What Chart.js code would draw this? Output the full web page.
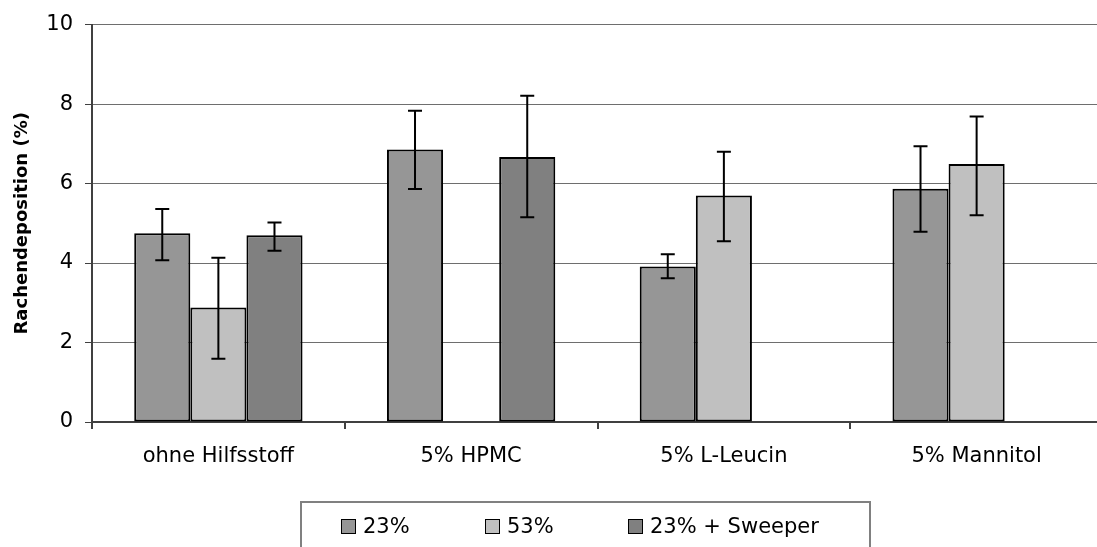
<!DOCTYPE html>
<html>
<head>
<meta charset="utf-8">
<script src="https://cdn.jsdelivr.net/npm/chart.js@4/dist/chart.umd.min.js"></script>
<style>
  html, body { margin: 0; padding: 0; background: #fff; overflow: hidden; }
  #wrap { position: relative; width: 1110px; height: 547px; }
  #legendBox {
    position: absolute; left: 300px; top: 501px; width: 571px; height: 70px;
    border: 2px solid #808080; box-sizing: border-box;
    font-family: "DejaVu Sans", sans-serif; font-size: 21px; color: #000;
  }
  .lg-item { position: absolute; top: 11px; display: flex; align-items: center; white-space: nowrap; }
  .lg-box { width: 13px; height: 13px; border: 1px solid #000; margin-right: 7px; }
</style>
</head>
<body>
<div id="wrap">
  <canvas id="chart" width="1110" height="547"></canvas>
  <div id="legendBox"></div>
</div>
<script>
// --- Daten ---
const categories = ["ohne Hilfsstoff", "5% HPMC", "5% L-Leucin", "5% Mannitol"];
const seriesNames = ["23%", "53%", "23% + Sweeper"];
const seriesColors = ["#969696", "#c0c0c0", "#808080"];

const values23 = [4.75, 6.86, 3.91, 5.87];
const values53 = [2.88, null, 5.70, 6.49];
const valuesSweeper = [4.70, 6.67, null, null];

// Fehlerbalken (untere / obere Grenze)
const low23 = [4.07, 5.86, 3.62, 4.79];
const high23 = [5.36, 7.83, 4.22, 6.94];
const low53 = [1.59, null, 4.55, 5.20];
const high53 = [4.13, null, 6.80, 7.69];
const lowSweeper = [4.31, 5.15, null, null];
const highSweeper = [5.02, 8.21, null, null];

const yTicks = [0, 2, 4, 6, 8, 10];

const allValues = [values23, values53, valuesSweeper];
const allLow = [low23, low53, lowSweeper];
const allHigh = [high23, high53, highSweeper];

const FONT = "'DejaVu Sans', sans-serif";

// --- Fehlerbalken-Plugin ---
const errorBars = {
  id: "errorBars",
  afterDatasetsDraw(chart) {
    const ctx = chart.ctx;
    const y = chart.scales.y;
    ctx.save();
    ctx.strokeStyle = "#000";
    ctx.lineWidth = 2;
    chart.data.datasets.forEach((ds, i) => {
      const meta = chart.getDatasetMeta(i);
      meta.data.forEach((bar, j) => {
        const lo = allLow[i][j], hi = allHigh[i][j];
        if (lo == null || hi == null) return;
        const x = bar.x;
        const yl = y.getPixelForValue(lo), yh = y.getPixelForValue(hi);
        ctx.beginPath();
        ctx.moveTo(x, yl); ctx.lineTo(x, yh);
        ctx.moveTo(x - 7, yl); ctx.lineTo(x + 7, yl);
        ctx.moveTo(x - 7, yh); ctx.lineTo(x + 7, yh);
        ctx.stroke();
      });
    });
    ctx.restore();
  }
};

const chart = new Chart(document.getElementById("chart"), {
  type: "bar",
  data: {
    labels: categories,
    datasets: seriesNames.map((name, i) => ({
      label: name,
      data: allValues[i],
      backgroundColor: seriesColors[i],
      borderColor: "#000",
      borderWidth: 2,
      borderSkipped: false,
      barPercentage: 1,
      categoryPercentage: 0.666
    }))
  },
  options: {
    responsive: false,
    animation: false,
    layout: { padding: { top: 21, right: 7, left: 0, bottom: 0 } },
    plugins: { legend: { display: false }, tooltip: { enabled: false } },
    scales: {
      x: {
        grid: { display: true, drawOnChartArea: false, offset: true, tickLength: 7, color: "#404040", lineWidth: 2 },
        border: { color: "#404040", width: 2 },
        ticks: { color: "#000", font: { family: FONT, size: 21 }, padding: 15, maxRotation: 0 },
        afterFit(scale) { scale.height = 125; }
      },
      y: {
        min: 0, max: 10,
        afterBuildTicks(scale) { scale.ticks = yTicks.map(v => ({ value: v })); },
        grid: { color: "#6e6e6e", lineWidth: 1, tickLength: 7, tickColor: "#404040" },
        border: { color: "#404040", width: 2 },
        ticks: { color: "#000", font: { family: FONT, size: 21 }, padding: 12 },
        title: {
          display: true, text: "Rachendeposition (%)", color: "#000",
          font: { family: FONT, size: 18, weight: "bold" }, padding: { top: 12, bottom: 0 }
        },
        afterFit(scale) { scale.width = 92; }
      }
    }
  },
  plugins: [errorBars]
});

// --- Legende ---
const legendBox = document.getElementById("legendBox");
const legendLeft = [39, 183, 326];
seriesNames.forEach((name, i) => {
  const item = document.createElement("div");
  item.className = "lg-item";
  item.style.left = legendLeft[i] + "px";
  item.innerHTML = `<span class="lg-box" style="background:${seriesColors[i]}"></span><span>${name}</span>`;
  legendBox.appendChild(item);
});
</script>
</body>
</html>
